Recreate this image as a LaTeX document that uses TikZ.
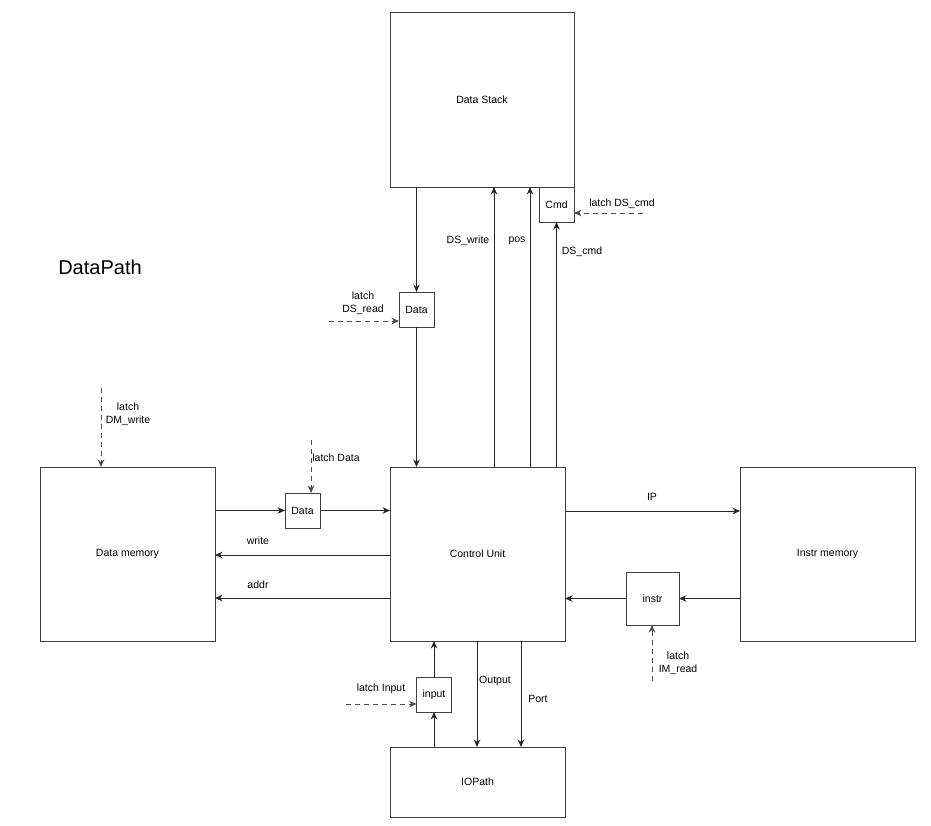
\documentclass[tikz,border=0pt]{standalone}
\usepackage{fontspec}
\setmainfont{Liberation Sans}
\usetikzlibrary{arrows.meta}
\begin{document}
\begin{tikzpicture}[x=1pt,y=-1pt,
  box/.style={draw=black!75,line width=0.9pt,inner sep=0pt,outer sep=0pt,font=\fontsize{10.5}{12}\selectfont},
  lbl/.style={inner sep=0pt,font=\fontsize{10.5}{13}\selectfont,align=center},
  arr/.style={draw=black!85,line width=0.9pt,-{Stealth[length=7.5pt,width=6.5pt,inset=2.4pt]}},
  darr/.style={arr,draw=black!70,dash pattern=on 5pt off 4pt}]
\useasboundingbox (0,0) rectangle (931,825);
% boxes
\node[box,minimum width=184pt,minimum height=175pt] (ds) at (482,99.5) {Data Stack};
\node[box,minimum width=35pt,minimum height=35pt] (cmd) at (556.5,204.5) {Cmd};
\node[box,minimum width=35pt,minimum height=35pt] (dsd) at (416.5,309.5) {Data};
\node[box,minimum width=175pt,minimum height=174pt] (cu) at (477.5,554) {Control Unit};
\node[box,minimum width=175pt,minimum height=174pt] (dm) at (127.5,554) {Data memory};
\node[box,minimum width=175pt,minimum height=174pt] (im) at (827.5,554) {Instr memory};
\node[box,minimum width=175pt,minimum height=70pt] (io) at (477.5,782) {IOPath};
\node[box,minimum width=35pt,minimum height=35pt] (dmd) at (302.5,510.5) {Data};
\node[box,minimum width=53pt,minimum height=53pt] (ins) at (652.5,598.5) {instr};
\node[box,minimum width=35pt,minimum height=35pt] (inp) at (434,694.5) {input};
\node[inner sep=0pt,font=\fontsize{20}{24}\selectfont] (title) at (100,267) {DataPath};
% x positions
\coordinate (xw) at (494,0);
\coordinate (xp) at (530,0);
\coordinate (xo) at (477,0);
\coordinate (xport) at (521,0);
\coordinate (ydw) at (0,555);
\coordinate (yad) at (0,598);
\coordinate (yip) at (0,511);
% free ends of latch lines
\coordinate (lcmd) at (643,213);
\coordinate (ldsr) at (329,321);
\coordinate (ldmw) at (101,388);
\coordinate (ldat) at (311,440);
\coordinate (limr) at (652,681);
\coordinate (linp) at (346,704);
% connectors
\draw[arr] (ds.south -| dsd.north) -- (dsd.north);
\draw[arr] (dsd.south) -- (cu.north -| dsd.south);
\draw[arr] (cu.north -| xw) -- (ds.south -| xw);
\draw[arr] (cu.north -| xp) -- (ds.south -| xp);
\draw[arr] (cu.north -| cmd.south) -- (cmd.south);
\draw[arr] (dm.east |- dmd.west) -- (dmd.west);
\draw[arr] (dmd.east) -- (cu.west |- dmd.east);
\draw[arr] (cu.west |- ydw) -- (dm.east |- ydw);
\draw[arr] (cu.west |- yad) -- (dm.east |- yad);
\draw[arr] (cu.east |- yip) -- (im.west |- yip);
\draw[arr] (im.west |- ins.east) -- (ins.east);
\draw[arr] (ins.west) -- (cu.east |- ins.west);
\draw[arr] (io.north -| inp.south) -- (inp.south);
\draw[arr] (inp.north) -- (cu.south -| inp.north);
\draw[arr] (cu.south -| xo) -- (io.north -| xo);
\draw[arr] (cu.south -| xport) -- (io.north -| xport);
% latch lines
\draw[darr] (lcmd) -- (cmd.east |- lcmd);
\draw[darr] (ldsr) -- (dsd.west |- ldsr);
\draw[darr] (ldmw) -- (dm.north -| ldmw);
\draw[darr] (ldat) -- (dmd.north -| ldat);
\draw[darr] (limr) -- (ins.south -| limr);
\draw[darr] (linp) -- (inp.west |- linp);
% labels
\node[lbl] (l1) at (622,204) {latch DS\_cmd};
\node[lbl] (l2) at (363,303.5) {latch\\DS\_read};
\node[lbl] (l3) at (128,414.5) {latch\\DM\_write};
\node[lbl] (l4) at (336,458) {latch Data};
\node[lbl] (l5) at (678,663.5) {latch\\IM\_read};
\node[lbl] (l6) at (381,689) {latch Input};
\node[lbl] (t1) at (468,241) {DS\_write};
\node[lbl] (t2) at (517,241) {pos};
\node[lbl] (t3) at (582,252) {DS\_cmd};
\node[lbl] (t4) at (258,541) {write};
\node[lbl] (t5) at (258,585) {addr};
\node[lbl] (t6) at (652,497) {IP};
\node[lbl] (t7) at (495,681) {Output};
\node[lbl] (t8) at (538,699) {Port};
\end{tikzpicture}
\end{document}
